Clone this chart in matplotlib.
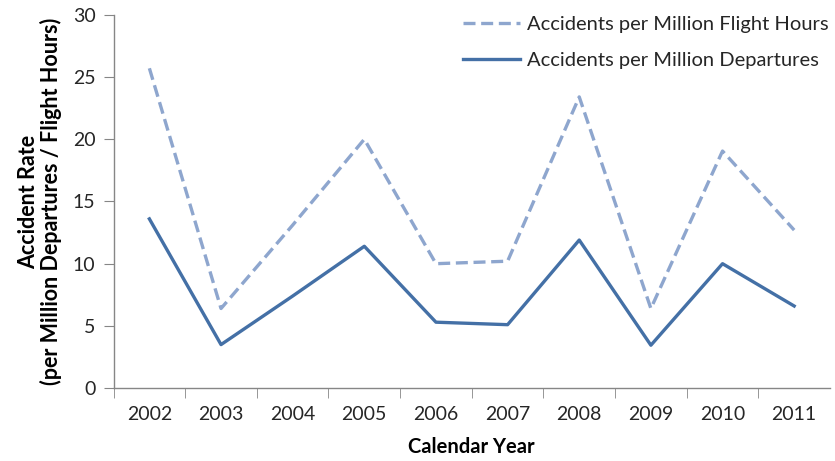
import numpy as np
import matplotlib.pyplot as plt

# data
years = ['2002', '2003', '2004', '2005', '2006', '2007', '2008', '2009', '2010', '2011']
per_flight_hours = [25.7, 6.4, 13.1, 20.0, 10.0, 10.2, 23.4, 6.4, 19.05, 12.7]
per_departures = [13.6, 3.5, 7.4, 11.4, 5.3, 5.1, 11.9, 3.45, 10.0, 6.6]

plt.rcParams['font.family'] = ['Lato', 'DejaVu Sans']

fig = plt.figure(figsize=(8.35, 4.61), dpi=100, facecolor='w')
ax = fig.add_axes([0.136, 0.158, 0.858, 0.81])

x = np.arange(len(years))
ax.plot(x, per_flight_hours, color='#8EA6CE', lw=2.4, dashes=(3.6, 1.7),
        label='Accidents per Million Flight Hours')
ax.plot(x, per_departures, color='#4470A6', lw=2.4,
        label='Accidents per Million Departures')

ax.set_xlim(-0.5, len(years) - 0.5)
ax.set_ylim(0, 30)
ax.set_yticks(np.arange(0, 31, 5))
ax.set_xticks(x)
ax.set_xticklabels(years)
ax.set_xticks(np.arange(-0.5, len(years) - 0.5, 1), minor=True)

grey = '#868686'
for side in ['top', 'right']:
    ax.spines[side].set_visible(False)
for side in ['left', 'bottom']:
    ax.spines[side].set_color(grey)
    ax.spines[side].set_linewidth(1.0)

ax.tick_params(axis='y', which='major', direction='out', length=7, color=grey,
               labelsize=14, labelcolor='#262626', pad=6)
ax.tick_params(axis='x', which='major', length=0, labelsize=14,
               labelcolor='#262626', pad=13)
ax.tick_params(axis='x', which='minor', direction='out', length=7, color=grey)

ax.set_xlabel('Calendar Year', fontsize=14.5, fontweight='bold', labelpad=10)
ax.set_ylabel('Accident Rate\n(per Million Departures / Flight Hours)',
              fontsize=15.5, fontweight='bold', labelpad=8, linespacing=1.05)

leg = ax.legend(loc='upper right', bbox_to_anchor=(1.024, 1.045), frameon=False,
                fontsize=14.5, handlelength=2.85, handletextpad=0.35,
                labelspacing=0.95)
for t in leg.get_texts():
    t.set_color('#262626')

plt.savefig('out.png', dpi=100, facecolor='w')
plt.close()
